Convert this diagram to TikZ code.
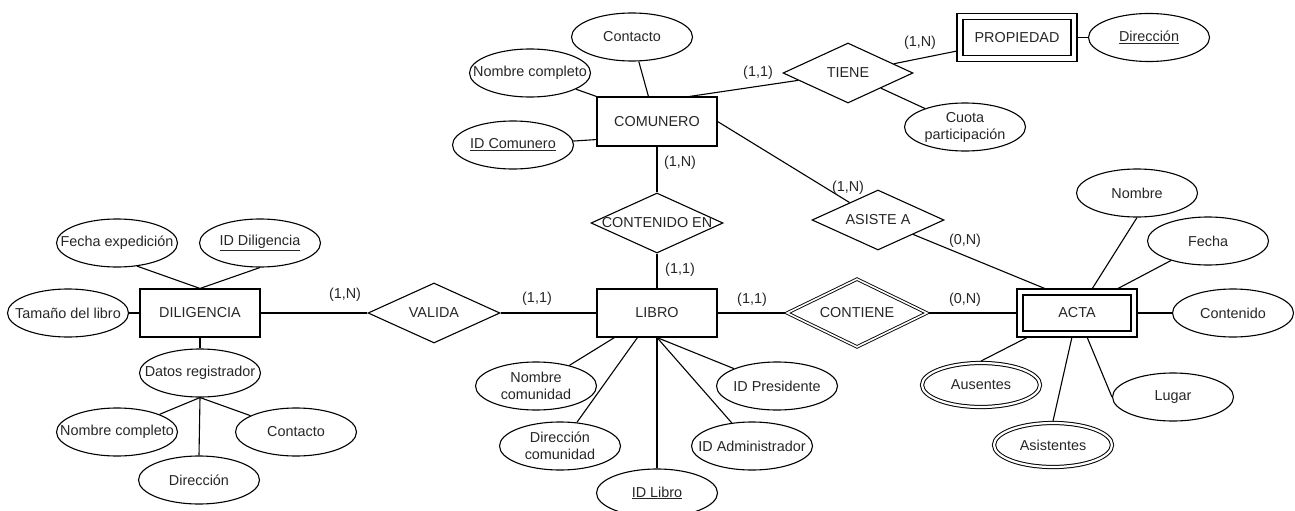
\documentclass[tikz,border=0pt]{standalone}
\usepackage{fontspec}
\setmainfont{Liberation Sans}
\usetikzlibrary{shapes.geometric,calc}
\begin{document}
\begin{tikzpicture}[x=1pt,y=-1pt,
  every node/.style={font=\fontsize{14.4}{17}\selectfont, text=black!85},
  link/.style={draw=black, line width=1.1pt},
  ent/.style={rectangle, draw, line width=1.1pt, minimum width=120pt, minimum height=48pt, inner sep=0pt},
  went/.style={rectangle, draw, line width=1.1pt, double, double distance=4.9pt,
    minimum width=114pt, minimum height=42pt, inner sep=0pt, outer sep=3pt},
  attr/.style={ellipse, draw, line width=1.1pt, minimum width=121pt, minimum height=48pt, inner sep=0pt},
  mattr/.style={ellipse, draw, line width=1pt, double, double distance=2.2pt,
    minimum width=118pt, minimum height=44pt, inner sep=0pt, outer sep=2pt},
  rel/.style={diamond, draw, line width=1.1pt, minimum width=132pt, minimum height=60pt, inner sep=0pt},
  wrel/.style={diamond, draw, line width=0.9pt, double, double distance=1.6pt,
    minimum width=141pt, minimum height=69pt, inner sep=0pt, outer sep=1.5pt},
  card/.style={inner sep=0pt},
  two/.style={align=center}
]
\useasboundingbox (0,0) rectangle (1295,511);

% ---------- DILIGENCIA ----------
\node[ent] (dil) at (200,313) {DILIGENCIA};
\node[attr, label={center:Tamaño del libro}] (tam) at (68,313) {};
\node[attr, label={center:Fecha expedición}] (fexp) at (117,243) {};
\node[attr, label={center:\underline{ID Diligencia}}] (idd) at (260,243) {};
\node[attr, label={center:Datos registrador}] (dreg) at (200,373) {};
\node[attr, label={center:Nombre completo}] (ncreg) at (117,432) {};
\node[attr, label={center:Contacto}] (creg) at (296,432) {};
\node[attr, label={center:Dirección}] (direg) at (199,480) {};

% ---------- VALIDA ----------
\node[rel, label={center:VALIDA}] (val) at (434,313) {};

% ---------- LIBRO ----------
\node[ent] (libro) at (657,313) {LIBRO};
\node[attr, label={[two]center:Nombre\\comunidad}] (ncom) at (536,386) {};
\node[attr, label={[two]center:Dirección\\comunidad}] (dcom) at (560,446) {};
\node[attr, label={center:\underline{ID Libro}}] (idl) at (657,493) {};
\node[attr, label={center:ID Administrador}] (ida) at (752,446) {};
\node[attr, label={center:ID Presidente}] (idp) at (777,386) {};

% ---------- CONTENIDO EN ----------
\node[rel, label={center:CONTENIDO EN}] (cen) at (657,223) {};

% ---------- COMUNERO ----------
\node[ent, minimum height=49pt] (com) at (657,121.5) {COMUNERO};
\node[attr, label={center:\underline{ID Comunero}}] (idc) at (513,145) {};
\node[attr, label={center:Nombre completo}] (ncc) at (530,73) {};
\node[attr, label={center:Contacto}] (ccom) at (632,37) {};

% ---------- TIENE / PROPIEDAD ----------
\node[rel, minimum width=130pt, label={center:TIENE}] (tiene) at (848,73) {};
\node[went] (prop) at (1017,37.5) {PROPIEDAD};
\node[attr, label={center:\underline{Dirección}}] (dirp) at (1149,37.5) {};
\node[attr, label={[two]center:Cuota\\participación}] (cuota) at (965,127) {};

% ---------- ASISTE A ----------
\node[rel, label={center:ASISTE A}] (asis) at (878,220) {};

% ---------- CONTIENE ----------
\node[wrel, label={center:CONTIENE}] (cont) at (857,313) {};

% ---------- ACTA ----------
\node[went] (acta) at (1077,313) {ACTA};
\node[attr, label={center:Nombre}] (nom) at (1137,193) {};
\node[attr, label={center:Fecha}] (fecha) at (1208,241) {};
\node[attr, label={center:Contenido}] (contd) at (1233,313) {};
\node[attr, label={center:Lugar}] (lugar) at (1173,397) {};
\node[mattr, label={center:Ausentes}] (aus) at (981,385) {};
\node[mattr, label={center:Asistentes}] (asist) at (1053,445) {};

% ---------- connectors ----------
\draw[link] (tam) -- (dil);
\draw[link] (fexp.-49) -- (dil.north);
\draw[link] (idd.south) -- (dil.north);
\draw[link] (dil.south) -- (dreg.north);
\draw[link] (dreg.south) -- (ncreg);
\draw[link] (dreg.south) -- (creg);
\draw[link] (dreg.south) -- (direg.north);
\draw[link] (dil) -- (val);
\draw[link] (val) -- (libro);

\draw[link] (com) -- (cen);
\draw[link] (cen) -- (libro);
\draw[link] (libro) -- (cont);
\draw[link] (cont) -- (acta);

\draw[link] ($(libro.south west)+(18,0)$) -- (ncom);
\draw[link] ($(libro.south west)+(41,0)$) -- (dcom);
\draw[link] (libro.south) -- (idl);
\draw[link] (libro.south) -- (ida);
\draw[link] (libro.south) -- (idp);

\draw[link] (idc) -- ($(com.south west)+(0,-7)$);
\draw[link] (ncc) -- (com.north west);
\draw[link] (ccom) -- ($(com.north west)+(52,0)$);
\draw[link] ($(com.north west)+(93,0)$) -- (tiene);
\draw[link] (com.east) -- (asis);

\draw[link] (tiene) -- ($(prop.west)+(0,13.5)$);
\draw[link] (prop) -- (dirp);
\draw[link] (tiene) -- (cuota);

\draw[link] (asis) -- ($(acta.north west)+(29,0)$);
\draw[link] (nom.south) -- ($(acta.north west)+(75,0)$);
\draw[link] (fecha) -- ($(acta.north west)+(100,0)$);
\draw[link] (acta) -- (contd);
\draw[link] (aus.north) -- ($(acta.south west)+(11,0)$);
\draw[link] (asist.north) -- ($(acta.south west)+(55,0)$);
\draw[link] (lugar.west) -- ($(acta.south west)+(70,0)$);

% ---------- cardinalities ----------
\node[card] (k1) at (758,73) {(1,1)};
\node[card] (k2) at (920,43) {(1,N)};
\node[card] (k3) at (680,163) {(1,N)};
\node[card] (k4) at (680,270) {(1,1)};
\node[card] (k5) at (848,188) {(1,N)};
\node[card] (k6) at (965,241) {(0,N)};
\node[card] (k7) at (345,295) {(1,N)};
\node[card] (k8) at (537,299) {(1,1)};
\node[card] (k9) at (752,300) {(1,1)};
\node[card] (k10) at (965,300) {(0,N)};
\end{tikzpicture}
\end{document}
